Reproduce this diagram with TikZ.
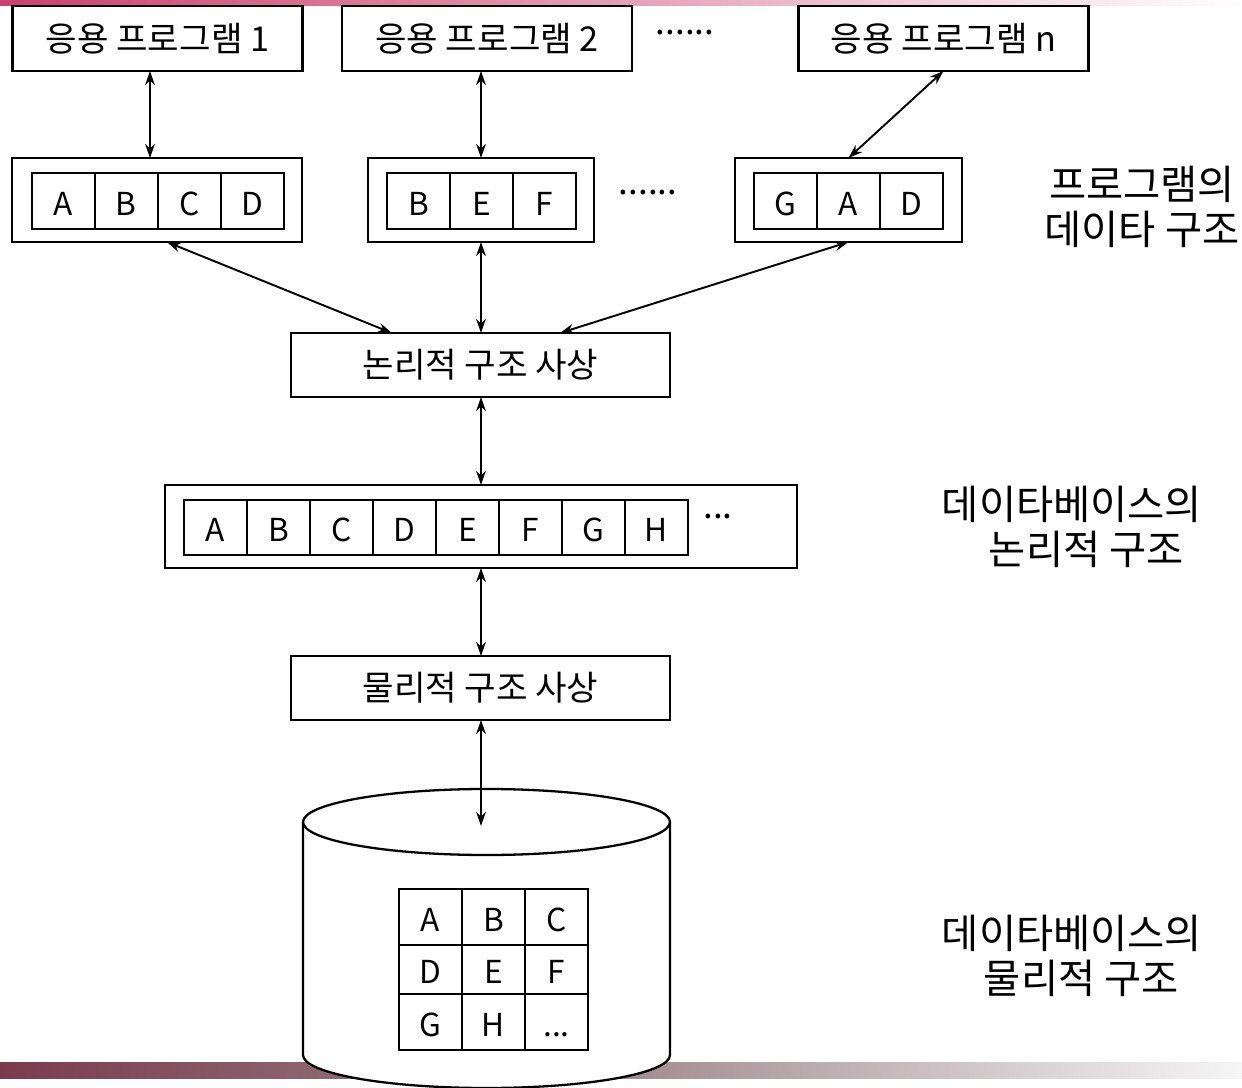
\documentclass[tikz,border=0pt]{standalone}
\usepackage{fontspec}
\setmainfont{Noto Sans CJK KR}
\usetikzlibrary{arrows.meta,calc,positioning}
\definecolor{barpink}{HTML}{CC3F70}
\definecolor{barmaroon}{HTML}{7A3B4E}
\definecolor{barmid}{HTML}{A08A90}
\definecolor{barlight}{HTML}{F6F6F6}
\begin{document}
\begin{tikzpicture}[x=0.02cm,y=-0.02cm,
 box/.style={draw, line width=1.3pt, inner sep=0pt, outer sep=0pt, font=\fontsize{19.5}{23}\selectfont},
 cell/.style={draw, line width=1.3pt, minimum width=1.26cm, minimum height=1.12cm, inner sep=0pt, outer sep=0pt, text height=16pt, text depth=0pt, font=\fontsize{18}{22}\selectfont},
 link/.style={line width=1.1pt, {Stealth[length=8pt,width=5.5pt]}-{Stealth[length=8pt,width=5.5pt]}},
 side/.style={font=\fontsize{23}{25.5}\selectfont, align=left, inner sep=0pt},
 dots/.style={font=\fontsize{20}{22}\selectfont, inner sep=0pt}
]
\useasboundingbox (0,0) rectangle (1242,1088);
% decorative bars
\shade[left color=barpink, right color=white] (0,0) rectangle (1242,6);
\shade[left color=barmaroon, right color=barlight, middle color=barmid] (0,1062) rectangle (1242,1078);

% application boxes
\node[box, minimum width=5.8cm, minimum height=1.3cm] (app1) at (157.5,38.5) {\raisebox{-1pt}{응용 프로그램 1}};
\node[box, minimum width=5.8cm, minimum height=1.3cm] (app2) at (487,38.5) {\raisebox{-1pt}{응용 프로그램 2}};
\node[box, minimum width=5.8cm, minimum height=1.3cm] (appn) at (943.5,38.5) {\raisebox{-1pt}{응용 프로그램 n}};
\node[dots] (d1) at (685,33) {......};

% program data structures
\node[box, minimum width=5.8cm, minimum height=1.68cm] (pa) at (157,200) {};
\node[cell] (pa1) at (63.4,201) {A};
\node[cell, right=0pt of pa1] (pa2) {B};
\node[cell, right=0pt of pa2] (pa3) {C};
\node[cell, right=0pt of pa3] (pa4) {D};

\node[box, minimum width=4.52cm, minimum height=1.68cm] (pb) at (481,200) {};
\node[cell] (pb1) at (418.4,201) {B};
\node[cell, right=0pt of pb1] (pb2) {E};
\node[cell, right=0pt of pb2] (pb3) {F};

\node[dots] (d2) at (648,193) {......};

\node[box, minimum width=4.54cm, minimum height=1.68cm] (pc) at (848.5,200) {};
\node[cell] (pc1) at (785.4,201) {G};
\node[cell, right=0pt of pc1] (pc2) {A};
\node[cell, right=0pt of pc2] (pc3) {D};

\node[side, align=center] (lab1) at (1142,207) {프로그램의\\데이타 구조};

% logical mapping
\node[box, minimum width=7.58cm, minimum height=1.28cm] (lmap) at (480.5,365) {\raisebox{-1pt}{논리적 구조 사상}};

% DB logical structure
\node[box, minimum width=12.64cm, minimum height=1.66cm] (dbl) at (481,526.5) {};
\node[cell, minimum height=1.1cm] (l1) at (215.5,527.5) {A};
\node[cell, minimum height=1.1cm, right=0pt of l1] (l2) {B};
\node[cell, minimum height=1.1cm, right=0pt of l2] (l3) {C};
\node[cell, minimum height=1.1cm, right=0pt of l3] (l4) {D};
\node[cell, minimum height=1.1cm, right=0pt of l4] (l5) {E};
\node[cell, minimum height=1.1cm, right=0pt of l5] (l6) {F};
\node[cell, minimum height=1.1cm, right=0pt of l6] (l7) {G};
\node[cell, minimum height=1.1cm, right=0pt of l7] (l8) {H};
\node[dots] (d3) at (718,517) {...};

\node[side] (lab2) at (1072,527) {데이타베이스의\\\hspace*{0.94cm}논리적 구조};

% physical mapping
\node[box, minimum width=7.58cm, minimum height=1.28cm] (pmap) at (480.5,688) {\raisebox{-1pt}{물리적 구조 사상}};

% cylinder
\fill[white] (303,822) -- (303,1055) arc[start angle=180,end angle=0,x radius=183.5,y radius=33] -- (670,822) -- cycle;
\draw[line width=1.3pt] (303,822) -- (303,1055) arc[start angle=180,end angle=0,x radius=183.5,y radius=33] -- (670,822);
\draw[line width=1.3pt, fill=white] (486.5,822) ellipse [x radius=183.5, y radius=33];
\coordinate (cyl) at (481,826);

\node[cell] (g1) at (430.5,917) {A};
\node[cell, right=0pt of g1] (g2) {B};
\node[cell, right=0pt of g2] (g3) {C};
\node[cell, minimum height=0.98cm, below=0pt of g1] (g4) {D};
\node[cell, minimum height=0.98cm, right=0pt of g4] (g5) {E};
\node[cell, minimum height=0.98cm, right=0pt of g5] (g6) {F};
\node[cell, below=0pt of g4] (g7) {G};
\node[cell, right=0pt of g7] (g8) {H};
\node[cell, right=0pt of g8] (g9) {...};

\node[side] (lab3) at (1072,956) {데이타베이스의\\\hspace*{0.84cm}물리적 구조};

% connectors
\draw[link] (app1.south -| 150,0) -- (pa.north -| 150,0);
\draw[link] (app2.south -| pb.north) -- (pb.north);
\draw[link] (appn.south) -- (pc.north);
\draw[link] ($(pa.south west)!0.534!(pa.south east)$) -- ($(lmap.north west)!0.266!(lmap.north east)$);
\draw[link] (pb.south) -- (lmap.north -| pb.south);
\draw[link] (pc.south) -- ($(lmap.north west)!0.71!(lmap.north east)$);
\draw[link] (lmap.south -| dbl.north) -- (dbl.north);
\draw[link] (dbl.south) -- (pmap.north -| dbl.south);
\draw[link] (pmap.south -| cyl) -- (cyl);
\end{tikzpicture}
\end{document}
